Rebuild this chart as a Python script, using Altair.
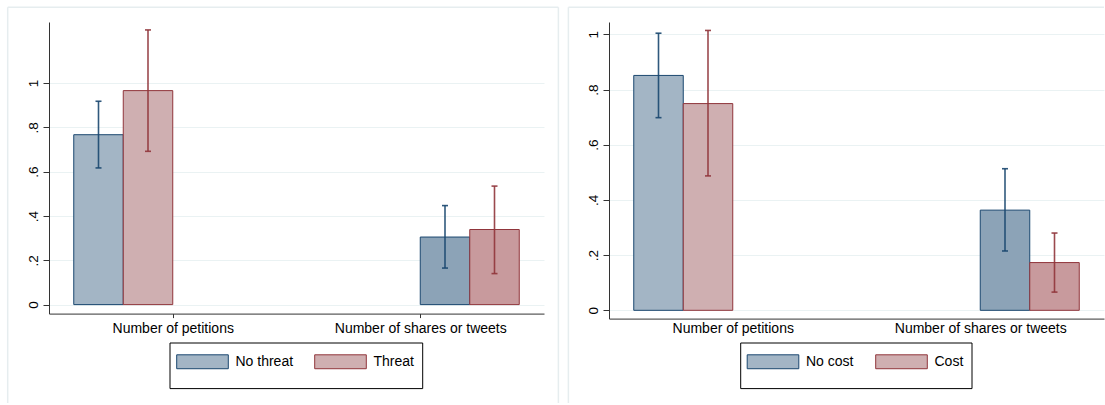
import altair as alt
import pandas as pd

# ---------------- data ----------------
groups = ["Number of petitions", "Number of shares or tweets"]

threat_series = ["No threat", "Threat"]
no_threat_mean = [0.767, 0.305]
no_threat_lo = [0.617, 0.165]
no_threat_hi = [0.918, 0.447]
threat_mean = [0.966, 0.339]
threat_lo = [0.692, 0.140]
threat_hi = [1.240, 0.535]

cost_series = ["No cost", "Cost"]
no_cost_mean = [0.851, 0.363]
no_cost_lo = [0.698, 0.215]
no_cost_hi = [1.004, 0.513]
cost_mean = [0.749, 0.173]
cost_lo = [0.487, 0.066]
cost_hi = [1.014, 0.280]

y_ticks = [0, 0.2, 0.4, 0.6, 0.8, 1]

# ---------------- styles ----------------
NAVY = "#1a476f"
MAROON = "#90353b"
FILL = [["#a3b5c5", "#8ca3b7"], ["#cfafb1", "#c89a9d"]]  # [series][group]
LINE = [NAVY, MAROON]
GRID = "#eaf2f3"
BORDER = "#e6edef"
AXIS = "#333333"
FONT = "Liberation Sans"

GROUP_START = [0.5, 7.5]          # bar slot layout (Stata-like spacing)
X_DOMAIN = [0, 10]
TICK_POS = [GROUP_START[0] + 2, GROUP_START[1]]
RECT_PATH = "M-1,-0.27H1V0.27H-1Z"


def build_df(series, means, los, his):
    rows = []
    for si, s in enumerate(series):
        for gi, g in enumerate(groups):
            x0 = GROUP_START[gi] + si
            rows.append(dict(group=g, series=s, key=f"{s}|{gi}", x0=x0, x1=x0 + 1,
                             xc=x0 + 0.5, mean=means[si][gi], lo=los[si][gi], hi=his[si][gi]))
    return pd.DataFrame(rows)


def one():
    return alt.Data(values=[{"a": 1}])


def panel(series, means, los, his, height, ydom, legend_x, legend_y, box, border,
          x_ticksize, x_labelpad, col_pad):
    df = build_df(series, means, los, his)
    keys = [f"{s}|{gi}" for s in series for gi in range(len(groups))]
    fill_range = [FILL[si][gi] for si in range(len(series)) for gi in range(len(groups))]
    stroke_range = [LINE[si] for si in range(len(series)) for gi in range(len(groups))]

    legend = alt.Legend(
        values=[f"{s}|0" for s in series],
        labelExpr="split(datum.label, '|')[0]",
        orient="none", legendX=legend_x, legendY=legend_y,
        direction="horizontal", title=None,
        symbolType=RECT_PATH, symbolSize=2662, symbolStrokeWidth=1,
        labelFontSize=14, labelFont=FONT, labelColor="black",
        labelOffset=6.5, columnPadding=col_pad, padding=0,
    )

    xs = alt.Scale(domain=X_DOMAIN, nice=False, zero=False)
    ys = alt.Scale(domain=ydom, nice=False, zero=False)
    label_x = f"datum.value == {TICK_POS[0]} ? '{groups[0]}' : '{groups[1]}'"
    xaxis = alt.Axis(values=TICK_POS, labelExpr=label_x, grid=False,
                     ticks=x_ticksize > 0, tickSize=x_ticksize, tickColor=AXIS,
                     labelPadding=x_labelpad, labelFontSize=14, labelFont=FONT,
                     labelColor="black", domainColor=AXIS, title=None)
    yaxis = alt.Axis(values=y_ticks,
                     labelExpr="datum.value == 0 ? '0' : datum.value == 1 ? '1' : "
                               "replace(format(datum.value, '.1f'), '0.', '.')",
                     grid=True, gridColor=GRID, gridWidth=1,
                     tickSize=6, tickColor=AXIS, domainColor=AXIS,
                     labelAngle=270, labelAlign="center", labelBaseline="bottom",
                     labelPadding=3, labelFontSize=13.5, labelFont=FONT,
                     labelColor="black", title=None)

    base = alt.Chart(df)
    bars = base.mark_bar(strokeWidth=1).encode(
        x=alt.X("x0:Q", scale=xs, axis=xaxis),
        x2="x1:Q",
        y=alt.Y("mean:Q", scale=ys, axis=yaxis),
        y2=alt.datum(0),
        fill=alt.Fill("key:N", scale=alt.Scale(domain=keys, range=fill_range), legend=legend),
        stroke=alt.Stroke("key:N", scale=alt.Scale(domain=keys, range=stroke_range), legend=legend),
    )
    layers = [bars]
    for si, s in enumerate(series):
        sub = base.transform_filter(alt.datum.series == s)
        layers.append(sub.mark_rule(strokeWidth=1.6, color=LINE[si], opacity=0.9).encode(
            x=alt.X("xc:Q", title=None), y=alt.Y("lo:Q", title=None), y2="hi:Q"))
        for fld in ["lo", "hi"]:
            layers.append(sub.mark_tick(orient="horizontal", size=6, thickness=1.6,
                                        color=LINE[si], opacity=0.9).encode(
                x=alt.X("xc:Q", title=None), y=alt.Y(f"{fld}:Q", title=None)))

    # legend frame
    bx0, bx1, by0, by1 = box
    layers.append(alt.Chart(one()).mark_rect(fillOpacity=0, stroke="black", strokeWidth=1).encode(
        x=alt.value(bx0), x2=alt.value(bx1), y=alt.value(by0), y2=alt.value(by1)))

    # graph-region border (left, top, optional right)
    lx, rx, ty, byy, right_side = border
    layers.append(alt.Chart(one()).mark_rule(color=BORDER, strokeWidth=1.5).encode(
        x=alt.value(lx), y=alt.value(ty), y2=alt.value(byy)))
    layers.append(alt.Chart(one()).mark_rule(color=BORDER, strokeWidth=1.5).encode(
        x=alt.value(lx), x2=alt.value(rx), y=alt.value(ty)))
    if right_side:
        layers.append(alt.Chart(one()).mark_rule(color=BORDER, strokeWidth=1.5).encode(
            x=alt.value(rx), y=alt.value(ty), y2=alt.value(byy)))

    return alt.layer(*layers).properties(width=495, height=height)


left = panel(
    threat_series,
    [no_threat_mean, threat_mean], [no_threat_lo, threat_lo], [no_threat_hi, threat_hi],
    height=291.6, ydom=[-0.0406, 1.2758],
    legend_x=127, legend_y=313,
    box=(121, 373.7, 321, 366.6),
    border=(-41.3, 509.4, -14.7, 381, True),
    x_ticksize=4, x_labelpad=3.7, col_pad=18,
)
right = panel(
    cost_series,
    [no_cost_mean, cost_mean], [no_cost_lo, cost_lo], [no_cost_hi, cost_hi],
    height=296.6, ydom=[-0.030, 1.0446],
    legend_x=137.5, legend_y=313,
    box=(131.7, 363.0, 321, 366.6),
    border=(-40.6, 495, -14.7, 381, False),
    x_ticksize=0, x_labelpad=2.7, col_pad=19.5,
)

chart = alt.hconcat(left, right, spacing=65, bounds="flush").resolve_scale(
    fill="independent", stroke="independent", x="independent", y="independent"
).resolve_legend(fill="independent", stroke="independent").properties(
    padding={"left": 6, "top": 6, "right": 0, "bottom": 0},
    background="white",
).configure(font=FONT).configure_view(strokeWidth=0)

chart.save("out.html", embed_options={"renderer": "svg", "actions": False})
